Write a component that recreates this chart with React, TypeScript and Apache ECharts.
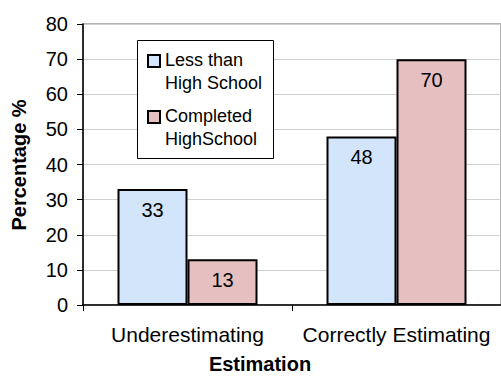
import React, { useEffect, useRef } from "react";
import * as echarts from "echarts";

// Chart data
const categories = ["Underestimating", "Correctly Estimating"];
const seriesNames = ["Less than\nHigh School", "Completed\nHighSchool"];
const lessThanHS = [33, 48];
const completedHS = [13, 70];
const seriesColors = ["#d3e5fa", "#e6c0c1"];
const yMin = 0;
const yMax = 80;
const yStep = 10;
const xTitle = "Estimation";
const yTitle = "Percentage %";

const FONT = "'Liberation Sans', Arial, sans-serif";

export default function App() {
  const ref = useRef<HTMLDivElement>(null);

  useEffect(() => {
    if (!ref.current) return;
    const chart = echarts.init(ref.current, undefined, { renderer: "svg" });

    const values = [lessThanHS, completedHS];

    const series = values.map((data, i) => ({
      type: "bar",
      name: seriesNames[i],
      data,
      barWidth: 70,
      barGap: "0%",
      itemStyle: {
        color: seriesColors[i],
        borderColor: "#000",
        borderWidth: 2,
      },
      label: {
        show: true,
        position: "insideTop",
        distance: 11,
        color: "#000",
        fontSize: 20,
        fontFamily: FONT,
      },
    }));

    // Boxed legend, each swatch aligned with the first line of its name
    const legendItems: any[] = [
      {
        type: "rect",
        z: 10,
        shape: { x: 137.5, y: 40.5, width: 136, height: 118 },
        style: { fill: "#fff", stroke: "#000", lineWidth: 1 },
      },
    ];
    seriesNames.forEach((name, i) => {
      const cy = 61 + i * 56;
      legendItems.push({
        type: "rect",
        z: 11,
        shape: { x: 148, y: cy - 6, width: 12, height: 12 },
        style: { fill: seriesColors[i], stroke: "#000", lineWidth: 2 },
      });
      legendItems.push({
        type: "text",
        z: 11,
        x: 165,
        y: cy - 12.5,
        style: {
          text: name,
          fill: "#000",
          fontSize: 18,
          fontFamily: FONT,
          lineHeight: 23,
          align: "left",
          verticalAlign: "top",
        },
      });
    });

    chart.setOption({
      animation: false,
      backgroundColor: "#fff",
      grid: {
        left: 83,
        top: 24,
        width: 420,
        height: 281,
        show: true,
        borderColor: "#9a9a9a",
        borderWidth: 1.5,
      },
      xAxis: {
        type: "category",
        data: categories,
        axisLine: { show: true, lineStyle: { color: "#000", width: 1.5 } },
        axisTick: { show: true, length: 6, lineStyle: { color: "#000" } },
        axisLabel: {
          color: "#000",
          fontSize: 21,
          fontFamily: FONT,
          margin: 19,
          interval: 0,
        },
        splitLine: { show: false },
      },
      yAxis: {
        type: "value",
        min: yMin,
        max: yMax,
        interval: yStep,
        axisLine: { show: true, lineStyle: { color: "#000", width: 1.5 } },
        axisTick: { show: true, length: 6, lineStyle: { color: "#000" } },
        axisLabel: {
          color: "#000",
          fontSize: 20,
          fontFamily: FONT,
          margin: 15,
        },
        splitLine: { show: true, lineStyle: { color: "#cfcfcf", width: 1 } },
      },
      series,
      graphic: [
        ...legendItems,
        {
          type: "text",
          x: 260,
          y: 364,
          style: {
            text: xTitle,
            fill: "#000",
            fontSize: 20,
            fontWeight: "bold",
            fontFamily: FONT,
            align: "center",
            verticalAlign: "middle",
          },
        },
        {
          type: "text",
          x: 19,
          y: 165,
          rotation: Math.PI / 2,
          style: {
            text: yTitle,
            fill: "#000",
            fontSize: 20,
            fontWeight: "bold",
            fontFamily: FONT,
            align: "center",
            verticalAlign: "middle",
          },
        },
      ],
    });

    return () => chart.dispose();
  }, []);

  return (
    <div
      ref={ref}
      style={{ position: "absolute", left: 0, top: 0, width: 501, height: 377 }}
    />
  );
}
